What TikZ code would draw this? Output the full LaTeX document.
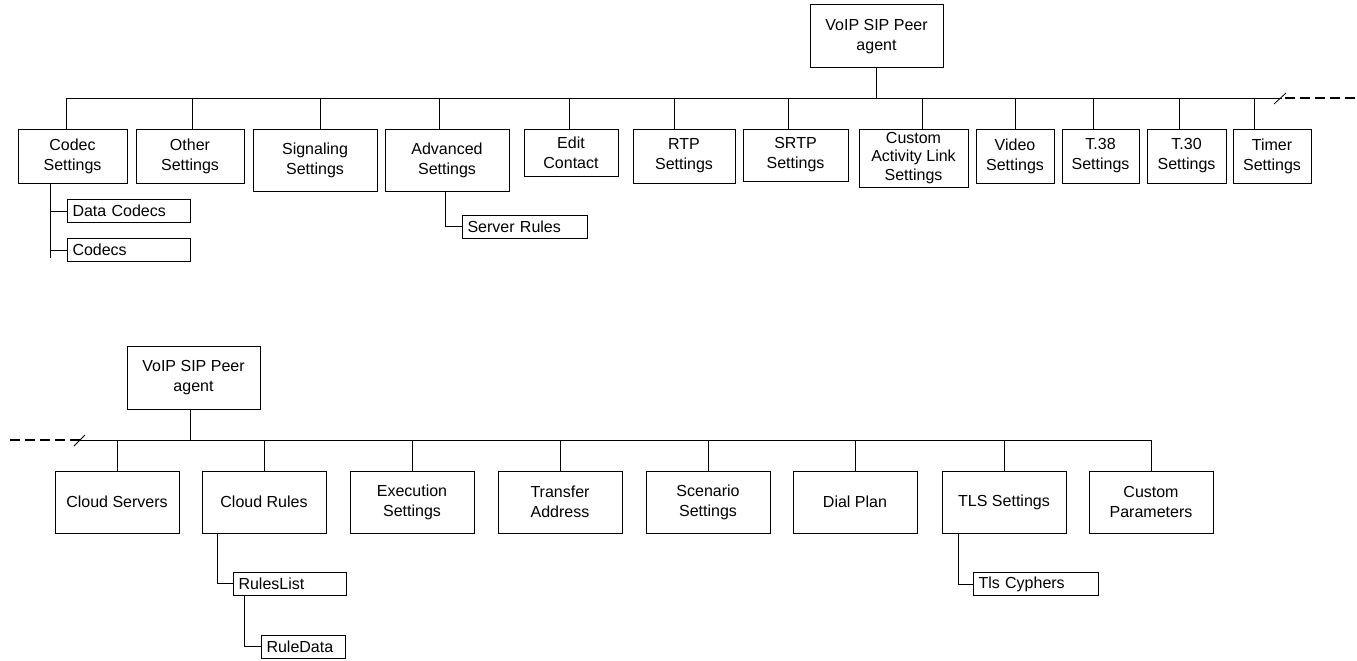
\documentclass[tikz,border=0pt]{standalone}
\usepackage{fontspec}
\setmainfont{Liberation Sans}
\usetikzlibrary{positioning}

\begin{document}
\begin{tikzpicture}[
    x=1pt, y=-1pt,
    menu/.style={rectangle, draw=black, line width=1pt, inner sep=0pt, align=center, font=\fontsize{16}{20}\selectfont},
    upper/.style={menu, minimum height=54pt},
    lower/.style={menu, minimum width=124pt, minimum height=62pt},
    submenu/.style={rectangle, draw=black, line width=1pt, inner ysep=0pt, inner xsep=5pt, minimum height=23pt, text width=#1, align=left, anchor=west, font=\fontsize{16}{20}\selectfont},
    link/.style={line width=1pt, draw=black},
    cut/.style={line width=2pt, dash pattern=on 10pt off 5pt},
    breakmark/.style={line width=0.8pt}
]
\useasboundingbox (0,0) rectangle (1357,661);

% top tree
\node[menu, minimum width=133pt, minimum height=63pt] (root) at (876.5,36.5) {VoIP SIP Peer\\agent};
\node[upper, minimum width=109pt] (codec) at (72.5,156) {Codec\\Settings};
\node[upper, minimum width=108pt] (other) at (190,156) {Other\\Settings};
\node[upper, minimum width=124pt, minimum height=62pt] (signal) at (315,160) {Signaling\\Settings};
\node[upper, minimum width=124pt, minimum height=62pt] (adv) at (447,160) {Advanced\\Settings};
\node[upper, minimum width=94pt, minimum height=47pt] (edit) at (571,152.5) {Edit\\Contact};
\node[upper, minimum width=102pt] (rtp) at (684,156) {RTP\\Settings};
\node[upper, minimum width=105pt, minimum height=52pt] (srtp) at (795.5,155) {SRTP\\Settings};
\node[upper, minimum width=109pt, minimum height=58pt, font=\fontsize{16}{18.5}\selectfont] (custom) at (913.5,158) {Custom\\Activity Link\\Settings};
\node[upper, minimum width=78pt] (video) at (1015,156) {Video\\Settings};
\node[upper, minimum width=77pt] (tthirtyeight) at (1100.5,156) {T.38\\Settings};
\node[upper, minimum width=79pt] (tthirty) at (1186.5,156) {T.30\\Settings};
\node[upper, minimum width=78pt] (timer) at (1272,156) {Timer\\Settings};

\node[submenu=113pt] (datacodecs) at (67,211) {Data Codecs};
\node[submenu=113pt] (codecs) at (67,250) {Codecs};
\node[submenu=115pt] (serverrules) at (462,226.5) {Server Rules};

\coordinate (topbus) at (0,98);
\coordinate (topcut) at (1282,98);
\coordinate (topend) at (1357,98);
\draw[link] (root) -- (root |- topbus);
\draw[link] ([xshift=-6.5pt]codec.north |- topbus) -- (topcut);
\foreach \n/\d in {codec/-6.5, other/2, signal/5, adv/-8, edit/-2, rtp/-10, srtp/-7.5, custom/8.5, video/0, tthirtyeight/-7.5, tthirty/-7.5, timer/-18}
    \draw[link] ([xshift=\d pt]\n.north) -- ([xshift=\d pt]\n.north |- topbus);
\draw[cut] ([xshift=3pt]topcut) -- (topend);
\draw[breakmark] ([shift={(-8,6)}]topcut) -- ([shift={(4,-5)}]topcut);

\coordinate (codecstem) at ([xshift=-22.5pt]codec.south);
\draw[link] (codecstem) -- ++(0,74);
\draw[link] (codecstem |- datacodecs.west) -- (datacodecs.west);
\draw[link] (codecstem |- codecs.west) -- (codecs.west);
\draw[link] ([xshift=-2pt]adv.south) |- (serverrules.west);

% bottom tree
\node[menu, minimum width=133pt, minimum height=63pt] (agent) at (193.5,377.5) {VoIP SIP Peer\\agent};
\node[lower] (servers) at (117,502) {Cloud Servers};
\node[lower] (rules) at (264,502) {Cloud Rules};
\node[lower] (exec) at (412,502) {Execution\\Settings};
\node[lower] (transfer) at (560,502) {Transfer\\Address};
\node[lower] (scenario) at (708,502) {Scenario\\Settings};
\node[lower] (dial) at (855,502) {Dial Plan};
\node[lower] (tls) at (1004,502) {TLS Settings};
\node[lower] (params) at (1151,502) {Custom\\Parameters};

\node[submenu=103pt] (ruleslist) at (233,583.5) {RulesList};
\node[submenu=74pt] (ruledata) at (261,646.5) {RuleData};
\node[submenu=115pt] (cyphers) at (973,584) {Tls Cyphers};

\coordinate (botbus) at (0,440);
\coordinate (botcut) at (80,440);
\coordinate (botend) at (10,440);
\draw[link] ([xshift=-3.5pt]agent.south) -- ([xshift=-3.5pt]agent.south |- botbus);
\draw[link] (botcut) -- (params.north |- botbus);
\foreach \n in {servers, rules, exec, transfer, scenario, dial, tls, params}
    \draw[link] (\n.north) -- (\n.north |- botbus);
\draw[cut] (botend) -- (botcut);
\draw[breakmark] ([shift={(-6,6)}]botcut) -- ([shift={(5,-5)}]botcut);

\draw[link] ([xshift=-47pt]rules.south) |- (ruleslist.west);
\draw[link] ([xshift=11pt]ruleslist.south west) |- (ruledata.west);
\draw[link] ([xshift=-46pt]tls.south) |- (cyphers.west);
\end{tikzpicture}
\end{document}
